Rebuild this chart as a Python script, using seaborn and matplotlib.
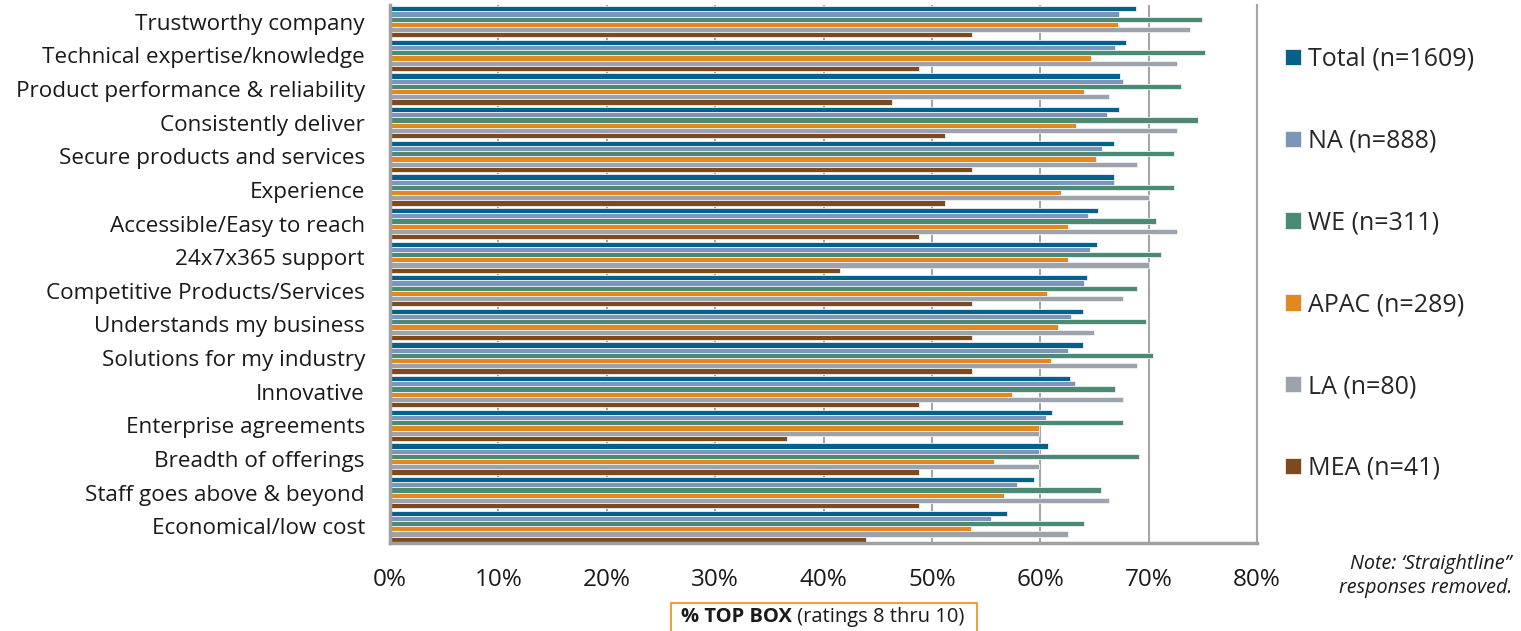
import matplotlib
matplotlib.use("Agg")
import matplotlib.pyplot as plt
import seaborn as sns
import pandas as pd
from matplotlib.patches import Rectangle
from matplotlib.ticker import FuncFormatter

categories = [
    "Trustworthy company", "Technical expertise/knowledge",
    "Product performance & reliability", "Consistently deliver",
    "Secure products and services", "Experience", "Accessible/Easy to reach",
    "24x7x365 support", "Competitive Products/Services",
    "Understands my business", "Solutions for my industry", "Innovative",
    "Enterprise agreements", "Breadth of offerings",
    "Staff goes above & beyond", "Economical/low cost",
]
series = ["Total (n=1609)", "NA (n=888)", "WE (n=311)", "APAC (n=289)",
          "LA (n=80)", "MEA (n=41)"]

total = [68.8, 67.9, 67.4, 67.3, 66.8, 66.8, 65.3, 65.2, 64.3, 63.9, 63.9, 62.7, 61.1, 60.7, 59.4, 56.9]
na    = [67.3, 66.9, 67.6, 66.2, 65.7, 66.8, 64.4, 64.6, 64.0, 62.8, 62.6, 63.2, 60.5, 59.9, 57.9, 55.5]
we    = [74.9, 75.2, 73.0, 74.6, 72.3, 72.3, 70.7, 71.1, 68.9, 69.8, 70.4, 66.9, 67.6, 69.1, 65.6, 64.0]
apac  = [67.2, 64.7, 64.0, 63.3, 65.1, 61.9, 62.6, 62.6, 60.6, 61.6, 61.0, 57.4, 59.9, 55.7, 56.7, 53.6]
la    = [73.8, 72.6, 66.3, 72.6, 68.9, 70.0, 72.6, 70.0, 67.6, 65.0, 68.9, 67.6, 59.9, 59.9, 66.3, 62.6]
mea   = [53.7, 48.8, 46.3, 51.2, 53.7, 51.2, 48.8, 41.5, 53.7, 53.7, 53.7, 48.8, 36.6, 48.8, 48.8, 43.9]

colors = ["#04618b", "#7b96b7", "#4b8a73", "#e3881f", "#9ca3ac", "#7e4a1d"]
xticks = [0, 10, 20, 30, 40, 50, 60, 70, 80]

values = [total, na, we, apac, la, mea]
rows = []
for s, vals in zip(series, values):
    for c, v in zip(categories, vals):
        rows.append({"category": c, "series": s, "value": v})
df = pd.DataFrame(rows)

sns.set_theme(style="white")
plt.rcParams["font.family"] = ["Open Sans", "DejaVu Sans"]

fig = plt.figure(figsize=(15.21, 6.31), dpi=100)
ax = fig.add_axes([390 / 1521, 1 - 543 / 631, (1257 - 390) / 1521, (543 - 5) / 631])

sns.barplot(data=df, y="category", x="value", hue="series", order=categories,
            hue_order=series, palette=colors, orient="h", width=0.93,
            saturation=1, edgecolor="#eef1f4", linewidth=0.6, ax=ax, legend=True)

ax.set_xlim(0, 80)
ax.set_xticks(xticks)
ax.xaxis.set_major_formatter(FuncFormatter(lambda v, p: f"{v:.0f}%"))
ax.grid(axis="x", color="#a6a6a6", linewidth=1.5)
ax.grid(axis="y", visible=False)
ax.set_axisbelow(True)
ax.set_xlabel("")
ax.set_ylabel("")
ax.tick_params(axis="y", length=0, pad=18, labelsize=16.2, labelcolor="#1a1a1a")
ax.tick_params(axis="x", length=0, pad=18, labelsize=17.5, labelcolor="#1a1a1a")
ax.spines["top"].set_visible(False)
ax.spines["right"].set_color("#a6a6a6")
ax.spines["right"].set_linewidth(1.5)
for side in ["left", "bottom"]:
    ax.spines[side].set_color("#a0a0a0")
    ax.spines[side].set_linewidth(2.5)

handles, labels = ax.get_legend_handles_labels()
ax.get_legend().remove()
fig.legend(handles, labels, loc="upper left",
           bbox_to_anchor=(1285 / 1521, 1 - 47 / 631), frameon=False,
           fontsize=18, handlelength=0.64, handleheight=0.64,
           handletextpad=0.3, labelspacing=2.27, borderaxespad=0,
           borderpad=0)

# x axis title box
t1 = fig.text(681 / 1521, 1 - 617 / 631, "% TOP BOX", fontsize=14.5,
              fontweight="bold", va="center", ha="left", color="#1a1a1a")
fig.canvas.draw()
t2 = ax.annotate(" (ratings 8 thru 10)", xy=(1, 0.5), xycoords=t1,
                 va="center", ha="left", fontsize=14.5, color="#1a1a1a",
                 annotation_clip=False)
fig.patches.append(Rectangle((671 / 1521, -0.01), (977 - 671) / 1521, 34 / 631,
                             transform=fig.transFigure, fill=False,
                             edgecolor="#f0a040", linewidth=1.5))

fig.text(1512 / 1521, 1 - 576 / 631, "Note: \u2018Straightline\u201d\nresponses removed.",
         fontsize=14.2, style="italic", ha="right", va="center",
         linespacing=1.25, color="#1a1a1a")

fig.savefig("out.png", dpi=100)
